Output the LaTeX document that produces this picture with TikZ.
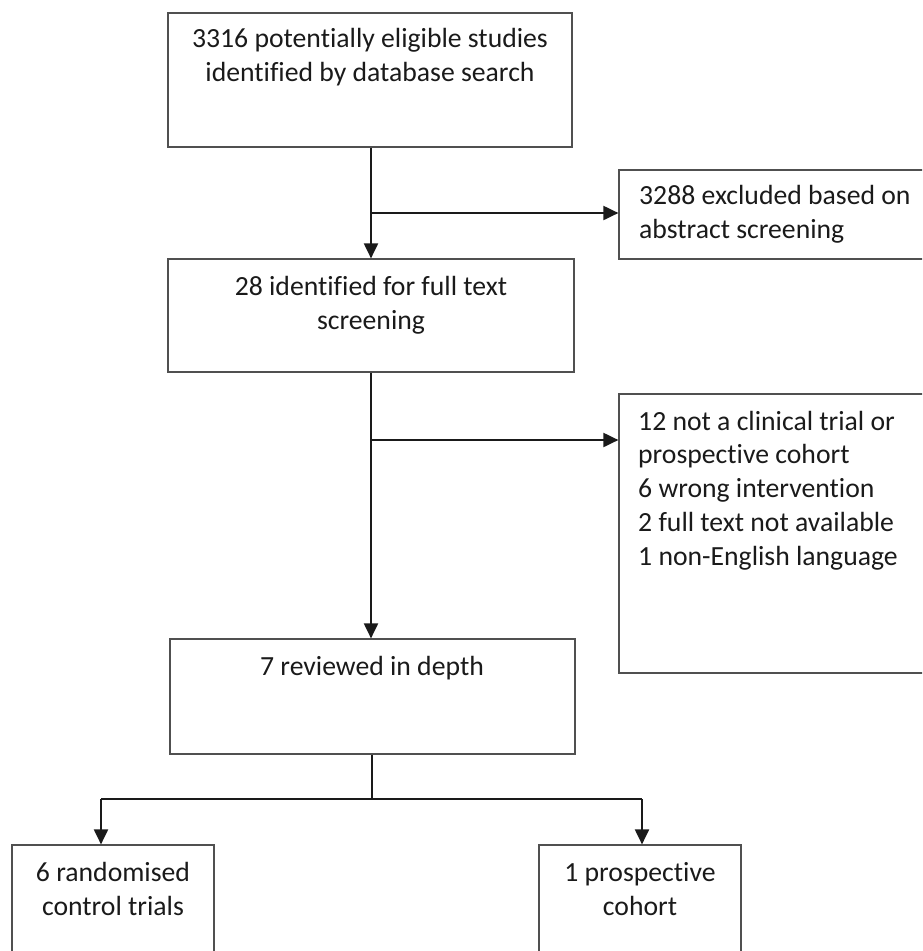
\documentclass[tikz,border=0pt]{standalone}
\usepackage{fontspec}
\setmainfont{Carlito}[Ligatures=NoCommon]
\usetikzlibrary{arrows.meta,positioning}
\definecolor{boxline}{HTML}{505050}
\definecolor{inkdark}{HTML}{1A1A1A}
\tikzset{
    box/.style={draw=boxline, line width=1.2pt, inner sep=0pt},
    txt/.style={inner sep=0pt, text=inkdark, font=\fontsize{27.7}{33.7}\selectfont},
    flow/.style={draw=inkdark, line width=2pt, -{Triangle[length=15pt,width=14pt]}},
    split/.style={draw=inkdark, line width=1.2pt},
}
\begin{document}
\begin{tikzpicture}[x=1pt,y=-1pt]
            \useasboundingbox (0,0) rectangle (922,951);
            \clip (0,0) rectangle (922,951);
            \node[box, minimum width=404pt, minimum height=134pt] (search) at (370,80) {};
            \node[box, minimum width=321pt, minimum height=89pt] (abstract) at (779.5,214.5) {};
            \node[box, minimum width=406pt, minimum height=113pt] (fulltext) at (371,315.5) {};
            \node[box, minimum width=321pt, minimum height=279pt] (excluded) at (779.5,533.5) {};
            \node[box, minimum width=405pt, minimum height=115pt] (depth) at (372.5,696.5) {};
            \node[box, minimum width=202pt, minimum height=120pt] (rct) at (113,905) {};
            \node[box, minimum width=202pt, minimum height=120pt] (cohort) at (640,905) {};
            \node[txt, align=center, anchor=base] (searchtext) at (370,81) {3316 potentially eligible studies\\identified by database search};
            \node[txt, align=left, anchor=base west] (abstracttext) at (639,238) {3288 excluded based on\\abstract screening};
            \node[txt, align=center, anchor=base] (fulltexttext) at (371,329) {28 identified for full text\\screening};
            \node[txt, align=left, anchor=base west] (excludedtext) at (638,565) {12 not a clinical trial or\\prospective cohort\\6 wrong intervention\\2 full text not available\\1 non-English language};
            \node[txt, align=center, anchor=base] (depthtext) at (372,675) {7 reviewed in depth};
            \node[txt, align=center, anchor=base] (rcttext) at (113,915) {6 randomised\\control trials};
            \node[txt, align=center, anchor=base] (cohorttext) at (640,915) {1 prospective\\cohort};
            \coordinate (s1) at (371,213);
            \coordinate (s2) at (371,440);
            \coordinate (s3) at (372,799);
            \coordinate (toleft) at (101,799);
            \coordinate (toright) at (642,799);
            \draw[flow] (s1 |- search.south) -- (s1 |- fulltext.north);
            \draw[flow] (s1) -- (s1 -| abstract.west);
            \draw[flow] (s2 |- fulltext.south) -- (s2 |- depth.north);
            \draw[flow] (s2) -- (s2 -| excluded.west);
            \draw[split] (s3 |- depth.south) -- (s3);
            \draw[split] (toleft) -- (toright);
            \foreach \n/\b in {toleft/rct, toright/cohort} {
                    \draw[flow] (\n) -- (\n |- \b.north);
                }
        \end{tikzpicture}
\end{document}
